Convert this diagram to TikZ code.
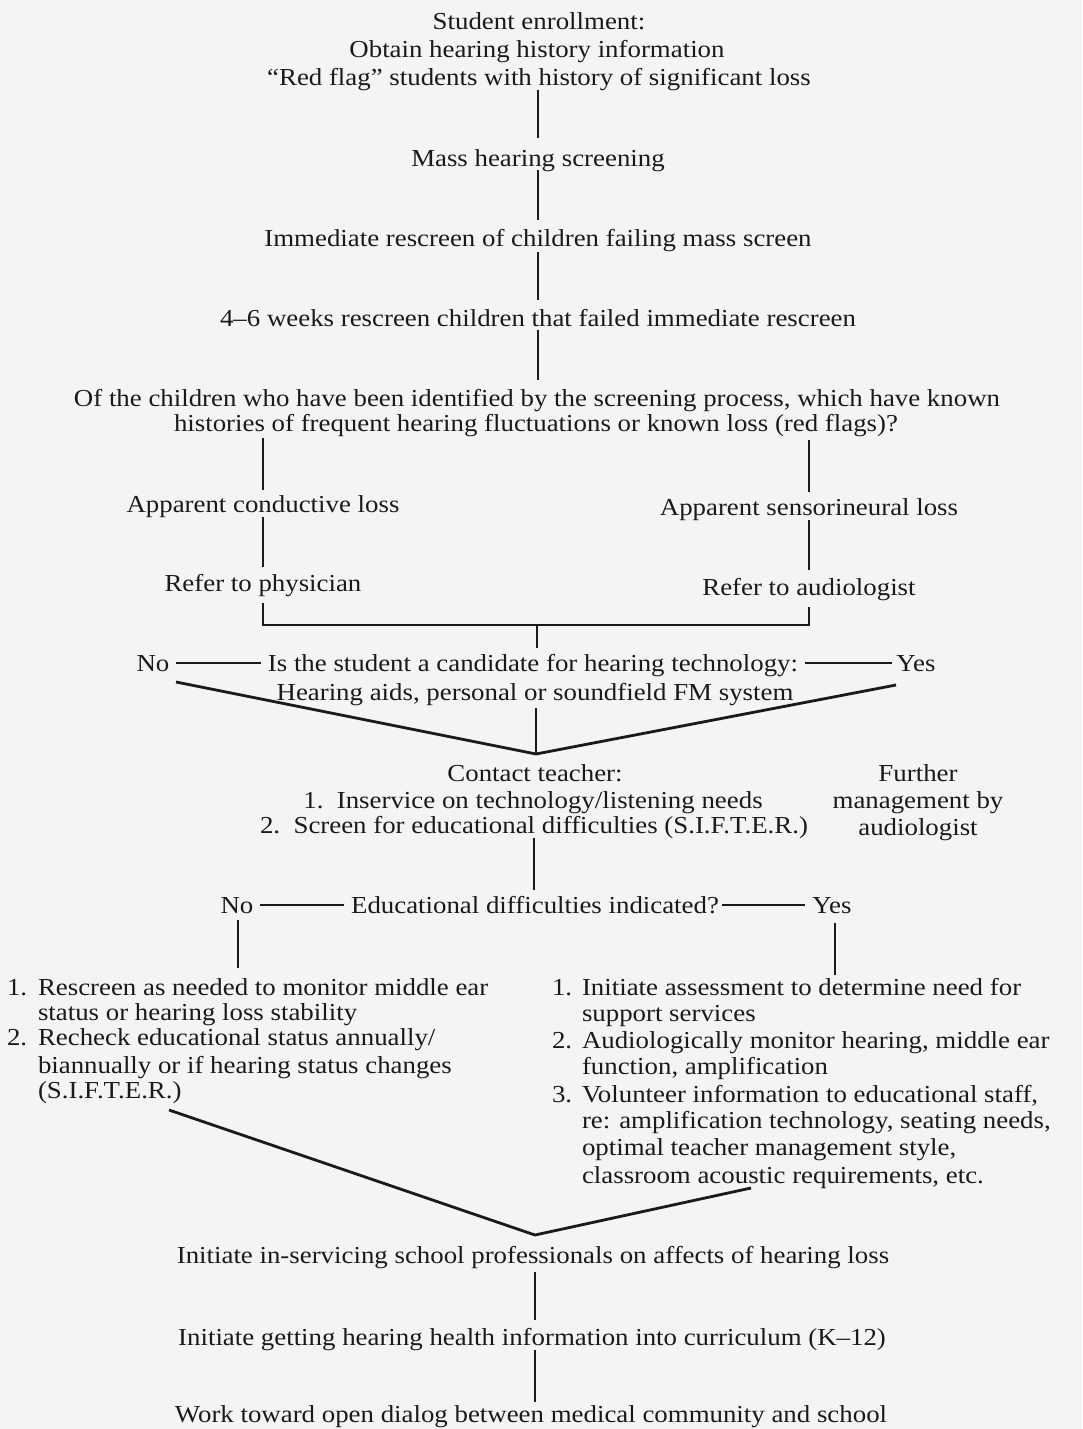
\documentclass[tikz,border=0pt]{standalone}
\usepackage{fontspec}
\setmainfont{Liberation Serif}[FakeStretch=1.1]
\usetikzlibrary{calc}
\definecolor{ink}{HTML}{1A1A1A}
\definecolor{paper}{HTML}{F4F4F2}
\begin{document}
\begin{tikzpicture}[x=1bp,y=-1bp,
  t/.style={inner sep=0pt, outer sep=0pt, text height=19bp, text depth=2bp,
            font=\fontsize{24.5}{28}\selectfont, text=ink},
  tl/.style={t, anchor=west},
  ln/.style={draw=ink, line width=2bp},
  heavy/.style={draw=ink, line width=2.8bp, line join=miter},
]
\useasboundingbox (0,0) rectangle (1082,1429);
\fill[paper] (0,0) rectangle (1082,1429);

% main column
\node[t] (enr) at (539,21) {Student enrollment:};
\node[t] (obt) at (537,49) {Obtain hearing history information};
\node[t] (red) at (539,77) {“Red flag” students with history of significant loss};
\node[t] (mass) at (538,158) {Mass hearing screening};
\node[t] (imm) at (538,238) {Immediate rescreen of children failing mass screen};
\node[t] (wk) at (538,318) {4–6 weeks rescreen children that failed immediate rescreen};
\node[t] (q1) at (537,398) {Of the children who have been identified by the screening process, which have known};
\node[t] (q2) at (536,423) {histories of frequent hearing fluctuations or known loss (red flags)?};
\node[t] (cond) at (263,504) {Apparent conductive loss};
\node[t] (sens) at (809,507) {Apparent sensorineural loss};
\node[t] (phys) at (263,583) {Refer to physician};
\node[t] (aud) at (809,587) {Refer to audiologist};
\node[t] (no1) at (153,663) {No};
\node[t] (cand) at (533,663) {Is the student a candidate for hearing technology:};
\node[t] (yes1) at (916,663) {Yes};
\node[t] (aids) at (535,692) {Hearing aids, personal or soundfield FM system};
\node[t] (contact) at (535,773) {Contact teacher:};
\node[t] (inserv) at (533,800) {1.\ \ Inservice on technology/listening needs};
\node[t] (screen) at (534,825) {2.\ \ Screen for educational difficulties (S.I.F.T.E.R.)};
\node[t] (fur1) at (918,773) {Further};
\node[t] (fur2) at (918,800) {management by};
\node[t] (fur3) at (918,827) {audiologist};
\node[t] (no2) at (237,905) {No};
\node[t] (edq) at (535,905) {Educational difficulties indicated?};
\node[t] (yes2) at (832,905) {Yes};

% left list
\node[tl] (ln1) at (7,987) {1.};
\node[tl] (la1) at (38,987) {Rescreen as needed to monitor middle ear};
\node[tl] (la1b) at (38,1012) {status or hearing loss stability};
\node[tl] (ln2) at (7,1037) {2.};
\node[tl] (la2) at (38,1037) {Recheck educational status annually/};
\node[tl] (la2b) at (38,1065) {biannually or if hearing status changes};
\node[tl] (la2c) at (38,1090) {(S.I.F.T.E.R.)};

% right list
\node[tl] (rn1) at (552,987) {1.};
\node[tl] (ra1) at (582,987) {Initiate assessment to determine need for};
\node[tl] (ra1b) at (582,1013) {support services};
\node[tl] (rn2) at (552,1040) {2.};
\node[tl] (ra2) at (582,1040) {Audiologically monitor hearing, middle ear};
\node[tl] (ra2b) at (582,1066) {function, amplification};
\node[tl] (rn3) at (552,1094) {3.};
\node[tl] (ra3) at (582,1094) {Volunteer information to educational staff,};
\node[tl] (ra3b) at (582,1120) {re: amplification technology, seating needs,};
\node[tl] (ra3c) at (582,1147) {optimal teacher management style,};
\node[tl] (ra3d) at (582,1175) {classroom acoustic requirements, etc.};

% bottom column
\node[t] (ins) at (533,1255) {Initiate in-servicing school professionals on affects of hearing loss};
\node[t] (curr) at (532,1337) {Initiate getting hearing health information into curriculum (K–12)};
\node[t] (work) at (531,1414) {Work toward open dialog between medical community and school};

% coordinates
\coordinate (join) at (537,625);
\coordinate (dl1) at (176,682);
\coordinate (dr1) at (896,685);
\coordinate (apex1) at (536,754);
\coordinate (dl2) at (169,1110);
\coordinate (dr2) at (751,1188);
\coordinate (apex2) at (535,1235);

% connectors
\draw[ln] ($(mass.north |- red.south)+(0,2.5)$) -- ($(mass.north)+(0,-9.5)$);
\draw[ln] ($(mass.south)+(0,1.5)$) -- ($(mass.south |- imm.north)+(0,-7.5)$);
\draw[ln] ($(mass.south |- imm.south)+(0,3.5)$) -- ($(mass.south |- wk.north)+(0,-7.5)$);
\draw[ln] ($(mass.south |- wk.south)+(0,1.5)$) -- ($(mass.south |- q1.north)+(0,-7.5)$);
\draw[ln] ($(cond.north |- q2.south)+(0,4.5)$) -- ($(cond.north)+(0,-3.5)$);
\draw[ln] ($(sens.north |- q2.south)+(0,6.5)$) -- ($(sens.north)+(0,-4.5)$);
\draw[ln] ($(cond.south)+(0,2.5)$) -- ($(phys.north)+(0,-5.5)$);
\draw[ln] ($(sens.south)+(0,2.5)$) -- ($(aud.north)+(0,-6.5)$);
\draw[heavy] ($(phys.south)+(0,9.5)$) -- (phys.south |- join) -- (aud.south |- join) -- ($(aud.south)+(0,9.5)$);
\draw[ln] (join) -- ($(join |- cand.north)+(0,-4.5)$);
\draw[ln] ($(no1.east)+(7,0)$) -- ($(cand.west)+(-7,0)$);
\draw[ln] ($(cand.east)+(7,0)$) -- ($(yes1.west)+(-4,0)$);
\draw[heavy] (dl1) -- (apex1) -- (dr1);
\draw[ln] ($(apex1 |- aids.south)+(0,5.5)$) -- (apex1);
\draw[ln] ($(screen.south)+(0,2.5)$) -- ($(screen.south |- edq.north)+(0,-4.5)$);
\draw[ln] ($(no2.east)+(7,0)$) -- ($(edq.west)+(-7,0)$);
\draw[ln] ($(edq.east)+(3,0)$) -- ($(yes2.west)+(-7,0)$);
\draw[ln] ($(no2.south)+(1,4.5)$) -- ($(no2.south |- la1.north)+(1,-8.5)$);
\draw[ln] ($(yes2.south)+(3,7.5)$) -- ($(yes2.south |- ra1.north)+(3,-1.5)$);
\draw[heavy] (dl2) -- (apex2) -- (dr2);
\draw[ln] ($(ins.south)+(2,6.5)$) -- ($(ins.south |- curr.north)+(2,-6.5)$);
\draw[ln] ($(ins.south |- curr.south)+(2,2.5)$) -- ($(ins.south |- work.north)+(2,-2)$);
\end{tikzpicture}
\end{document}
